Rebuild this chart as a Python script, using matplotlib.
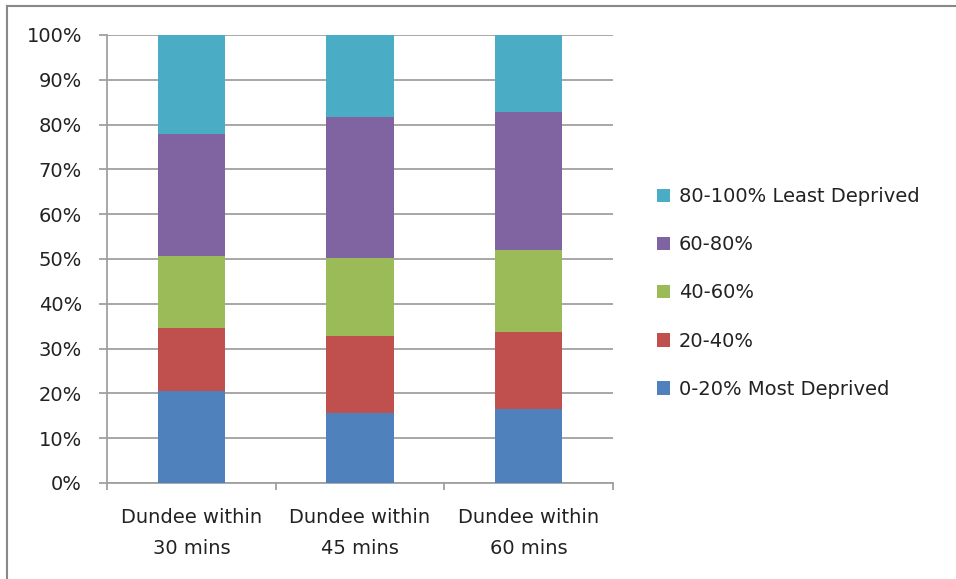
import matplotlib.pyplot as plt
import matplotlib.lines as mlines
import numpy as np

plt.rcParams['font.family'] = ['DejaVu Sans']

# Share of population by deprivation quintile within travel time of Dundee
categories = ['Dundee within\n30 mins', 'Dundee within\n45 mins', 'Dundee within\n60 mins']
series_names = ['0-20% Most Deprived', '20-40%', '40-60%', '60-80%', '80-100% Least Deprived']
q1 = [20.6, 15.6, 16.6]
q2 = [14.0, 17.2, 17.1]
q3 = [16.1, 17.4, 18.3]
q4 = [27.3, 31.4, 30.9]
q5 = [22.0, 18.4, 17.1]
colors = ['#4f81bd', '#c0504d', '#9bbb59', '#8064a2', '#4bacc6']

W, H = 956, 579
fs = 14
txt = '#222222'
gray = '#a0a0a0'

fig = plt.figure(figsize=(W / 100, H / 100), dpi=100)
ax = fig.add_axes([107 / W, 1 - 483 / H, (613 - 107) / W, (483 - 35) / H])

x = np.arange(len(categories))
bottom = np.zeros(len(categories))
handles = []
for name, vals, c in zip(series_names, [q1, q2, q3, q4, q5], colors):
    b = ax.bar(x, vals, 0.4, bottom=bottom, color=c, label=name, zorder=3)
    handles.append(b)
    bottom += np.array(vals)

ax.set_xlim(-0.5, 2.5)
ax.set_ylim(0, 100)
ax.set_yticks(np.arange(0, 101, 10))
ax.set_yticklabels([f'{v}%' for v in range(0, 101, 10)], fontsize=fs, color=txt)
ax.grid(axis='y', color=gray, linewidth=1.3, zorder=0)
ax.tick_params(axis='y', length=6, color=gray, width=1.3, pad=12)

# category boundaries as x ticks, labels on minor ticks
ax.set_xticks([-0.5, 0.5, 1.5, 2.5])
ax.set_xticklabels([])
ax.set_xticks(x, minor=True)
ax.set_xticklabels(categories, minor=True, fontsize=fs, color=txt, linespacing=1.8)
ax.tick_params(axis='x', which='major', length=5, color=gray, width=1.3)
ax.tick_params(axis='x', which='minor', length=0, pad=18)

for side in ['top', 'right']:
    ax.spines[side].set_visible(False)
for side in ['left', 'bottom']:
    ax.spines[side].set_color(gray)
    ax.spines[side].set_linewidth(1.3)

leg = fig.legend(handles[::-1], series_names[::-1], loc='center left',
                 bbox_to_anchor=(639 / W, 1 - 293 / H), frameon=False,
                 fontsize=fs, labelspacing=1.5, handlelength=0.7,
                 handleheight=0.7, handletextpad=0.45)
for t in leg.get_texts():
    t.set_color(txt)

# frame edges along the top and left of the chart
fig.add_artist(mlines.Line2D([7 / W, 7 / W], [0, 1 - 6 / H], color='#888888', linewidth=1.5))
fig.add_artist(mlines.Line2D([7 / W, 1], [1 - 6 / H, 1 - 6 / H], color='#888888', linewidth=1.5))

fig.savefig('out.png', dpi=100)
